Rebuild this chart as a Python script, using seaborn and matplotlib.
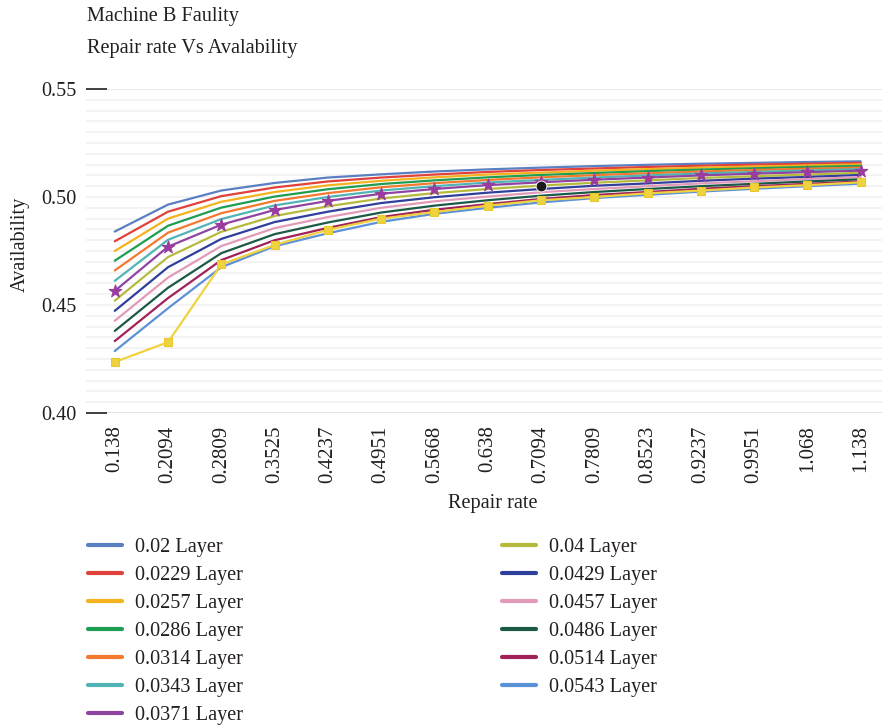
#!/usr/bin/env python3
"""
Machine B faulty: repair rate vs availability for several layer values.
"""

import numpy as np
import pandas as pd
import matplotlib
matplotlib.use("Agg")
import matplotlib.pyplot as plt
import seaborn as sns

# x categories (repair rate)
repair_rate = ['0.138', '0.2094', '0.2809', '0.3525', '0.4237', '0.4951', '0.5668',
               '0.638', '0.7094', '0.7809', '0.8523', '0.9237', '0.9951', '1.068', '1.138']

layer_labels = ['0.02 Layer', '0.0229 Layer', '0.0257 Layer', '0.0286 Layer', '0.0314 Layer',
                '0.0343 Layer', '0.0371 Layer', '0.04 Layer', '0.0429 Layer', '0.0457 Layer',
                '0.0486 Layer', '0.0514 Layer', '0.0543 Layer']

layer_colors = ['#5a7fc2', '#e0413a', '#f4b21e', '#1f9d52', '#f3792f', '#52b3b5', '#8f45a0',
                '#b6ba3c', '#2f3f9b', '#e29ab9', '#1c5a47', '#a12159', '#5b91d7']

# availability per layer
avail_0200 = [0.4840, 0.4965, 0.5030, 0.5065, 0.5090, 0.5105, 0.5118, 0.5128, 0.5136, 0.5143, 0.5149, 0.5154, 0.5158, 0.5162, 0.5165]
avail_0229 = [0.4795, 0.4932, 0.5004, 0.5044, 0.5072, 0.5090, 0.5104, 0.5116, 0.5125, 0.5132, 0.5139, 0.5145, 0.5150, 0.5154, 0.5158]
avail_0257 = [0.4750, 0.4900, 0.4978, 0.5023, 0.5054, 0.5075, 0.5091, 0.5104, 0.5113, 0.5122, 0.5129, 0.5136, 0.5141, 0.5146, 0.5151]
avail_0286 = [0.4705, 0.4867, 0.4951, 0.5002, 0.5036, 0.5060, 0.5077, 0.5091, 0.5102, 0.5111, 0.5120, 0.5127, 0.5133, 0.5139, 0.5144]
avail_0314 = [0.4660, 0.4835, 0.4925, 0.4982, 0.5018, 0.5045, 0.5064, 0.5079, 0.5091, 0.5101, 0.5110, 0.5118, 0.5125, 0.5131, 0.5136]
avail_0343 = [0.4612, 0.4802, 0.4898, 0.4961, 0.5000, 0.5030, 0.5050, 0.5067, 0.5079, 0.5090, 0.5100, 0.5109, 0.5116, 0.5123, 0.5129]
avail_0371 = [0.4565, 0.4770, 0.4872, 0.4940, 0.4982, 0.5015, 0.5037, 0.5055, 0.5068, 0.5080, 0.5090, 0.5100, 0.5108, 0.5115, 0.5122]
avail_0400 = [0.4520, 0.4722, 0.4839, 0.4912, 0.4957, 0.4993, 0.5018, 0.5037, 0.5053, 0.5066, 0.5077, 0.5088, 0.5096, 0.5104, 0.5112]
avail_0429 = [0.4473, 0.4675, 0.4806, 0.4884, 0.4932, 0.4972, 0.4999, 0.5020, 0.5037, 0.5052, 0.5063, 0.5075, 0.5085, 0.5093, 0.5102]
avail_0457 = [0.4427, 0.4627, 0.4773, 0.4856, 0.4907, 0.4950, 0.4980, 0.5002, 0.5022, 0.5037, 0.5050, 0.5063, 0.5073, 0.5083, 0.5092]
avail_0486 = [0.4380, 0.4580, 0.4740, 0.4828, 0.4882, 0.4928, 0.4960, 0.4985, 0.5006, 0.5023, 0.5037, 0.5050, 0.5061, 0.5072, 0.5082]
avail_0514 = [0.4333, 0.4532, 0.4708, 0.4800, 0.4857, 0.4907, 0.4941, 0.4967, 0.4991, 0.5009, 0.5023, 0.5038, 0.5050, 0.5061, 0.5072]
avail_0543 = [0.4287, 0.4485, 0.4675, 0.4772, 0.4832, 0.4885, 0.4922, 0.4950, 0.4975, 0.4995, 0.5010, 0.5025, 0.5038, 0.5050, 0.5062]

# extra marked yellow series (not in legend) and single highlighted point
yellow_marked = [0.4236, 0.4328, 0.4688, 0.4778, 0.4848, 0.4900, 0.4930, 0.4960, 0.4985, 0.5000, 0.5017, 0.5030, 0.5044, 0.5055, 0.5068]
highlight_x = ['0.7094']
highlight_y = [0.5052]

all_series = [avail_0200, avail_0229, avail_0257, avail_0286, avail_0314, avail_0343, avail_0371,
              avail_0400, avail_0429, avail_0457, avail_0486, avail_0514, avail_0543]


def build_frame():
    rows = []
    for label, vals in zip(layer_labels, all_series):
        for i, v in enumerate(vals):
            rows.append({'layer': label, 'pos': i, 'availability': v})
    return pd.DataFrame(rows)


def main():
    sns.set_theme(style='white')
    plt.rcParams['font.family'] = ['Liberation Serif', 'DejaVu Serif']
    text_color = '#231f20'
    fs = 14.6

    fig = plt.figure(figsize=(8.82, 7.27), dpi=100)
    ax = fig.add_axes([86 / 882, 1 - 413 / 727, 796 / 882, 324 / 727])

    df = build_frame()
    sns.lineplot(data=df, x='pos', y='availability', hue='layer', hue_order=layer_labels,
                 palette=dict(zip(layer_labels, layer_colors)), linewidth=1.6, ax=ax)

    # yellow line with square markers
    pos = np.arange(len(repair_rate))
    sns.lineplot(x=pos, y=yellow_marked, color='#efd23f', linewidth=1.6, marker='s',
                 markersize=5.5, markeredgecolor='#e8c82a', ax=ax, label='_nolegend_')
    # purple stars on the 0.0371 layer
    sns.scatterplot(x=pos, y=avail_0371, marker='*', s=90, color='#9a3c9e',
                    edgecolor='#9a3c9e', ax=ax, zorder=5, label='_nolegend_')
    # black highlighted point
    hx = [repair_rate.index(h) for h in highlight_x]
    sns.scatterplot(x=hx, y=highlight_y, s=60, color='#1a1a1a', ax=ax, zorder=6,
                    label='_nolegend_')

    handles, labels = ax.get_legend_handles_labels()
    ax.get_legend().remove()
    keep = [(h, l) for h, l in zip(handles, labels) if l in layer_labels]
    leg = fig.legend([h for h, _ in keep], [l for _, l in keep], loc='upper left',
                     bbox_to_anchor=(88 / 882, 1 - 538 / 727), ncol=2, frameon=False,
                     fontsize=fs, handlelength=1.67, handletextpad=0.64, labelspacing=0.43,
                     columnspacing=12.8, borderpad=0, borderaxespad=0)
    for h in leg.legend_handles:
        h.set_linewidth(3)
    for t in leg.get_texts():
        t.set_color(text_color)

    # axes styling
    ax.set_xlim(-0.54, 14.4)
    ax.set_ylim(0.40, 0.55)
    for y in np.arange(0.40, 0.5501, 0.005):
        ax.axhline(y, color='#f1f1f1', linewidth=1.2, zorder=0)
    ax.axhline(0.40, color='#e2e2e2', linewidth=1.4, zorder=0)
    ax.axhline(0.55, color='#e8e8e8', linewidth=1.4, zorder=0)
    for s in ax.spines.values():
        s.set_visible(False)

    ax.set_xticks(pos)
    ax.set_xticklabels(repair_rate, rotation=90, fontsize=15, color=text_color)
    ax.tick_params(axis='x', length=0, pad=9)
    ax.set_yticks([0.40, 0.45, 0.50, 0.55])
    ax.set_yticklabels(['0.40', '0.45', '0.50', '0.55'], fontsize=fs, color=text_color)
    ax.tick_params(axis='y', direction='in', length=15, width=1.2, color=text_color, pad=7,
                   left=True)
    yticks = ax.yaxis.get_major_ticks()
    yticks[1].tick1line.set_visible(False)
    yticks[2].tick1line.set_visible(False)

    ax.set_xlabel('Repair rate', fontsize=fs, color=text_color)
    ax.xaxis.set_label_coords(0.511, -0.25)
    ax.set_ylabel('Availability', fontsize=fs, color=text_color)
    ax.yaxis.set_label_coords(-0.07, 0.52)

    fig.text(87 / 882, 1 - 16 / 727, 'Machine B Faulity', fontsize=fs, color=text_color,
             va='center', ha='left')
    fig.text(87 / 882, 1 - 49 / 727, 'Repair rate Vs Avalability', fontsize=fs,
             color=text_color, va='center', ha='left')

    fig.savefig('out.png', dpi=100)
    plt.close(fig)


if __name__ == "__main__":
    main()
